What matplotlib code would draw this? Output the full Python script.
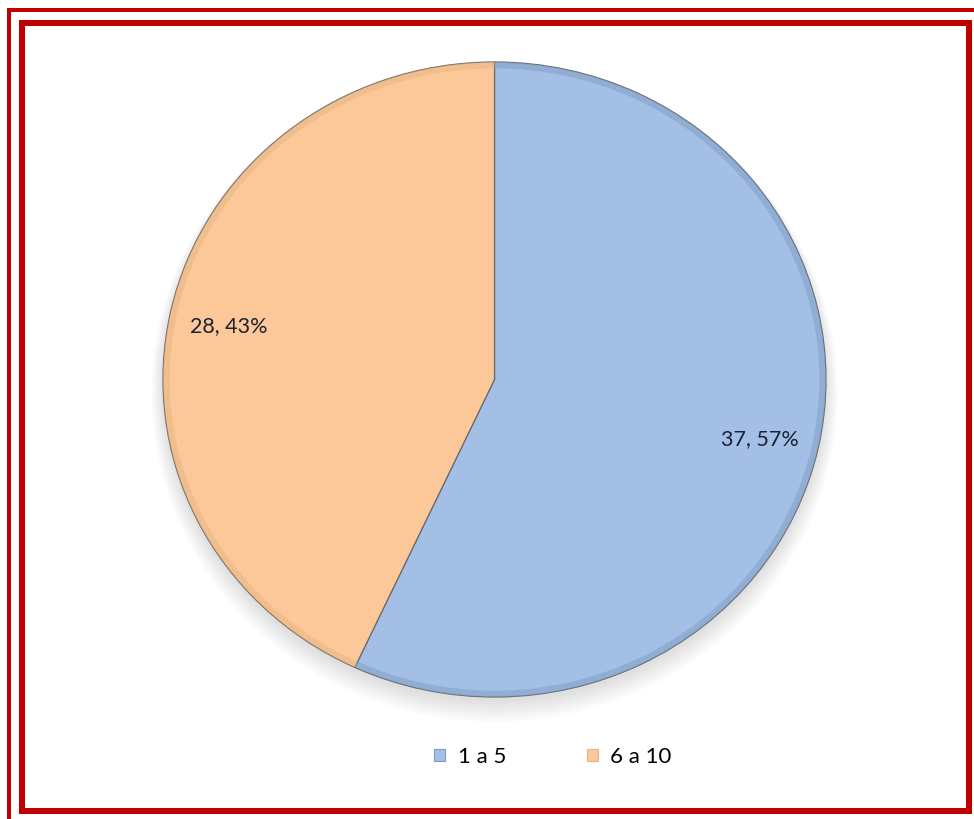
import matplotlib.pyplot as plt
import numpy as np
from matplotlib.patches import Rectangle, Ellipse, Wedge, Patch

# Share of each group
categories = ['1 a 5', '6 a 10']
values = [37.57, 28.43]
colors = ['#a3bfe5', '#fcc899']
edge_colors = ['#7e9cc4', '#e6b382']

W, H = 974, 819
fig = plt.figure(figsize=(W / 100, H / 100), dpi=100)
fig.patch.set_facecolor('white')


def px_rect(x0, y0, x1, y1, lw, color):
    # rectangle given in pixel coords from the top-left corner
    r = Rectangle((x0 / W, 1 - y1 / H), (x1 - x0) / W, (y1 - y0) / H,
                  transform=fig.transFigure, fill=False, edgecolor=color,
                  linewidth=lw * 0.72, joinstyle='miter')
    fig.patches.append(r)


# double red frame
px_rect(9, 10, 990, 835, 4, '#c00000')
px_rect(22, 23, 968.5, 811, 6, '#c00000')

# pie axes (slightly wider than tall)
ax = fig.add_axes([163 / W, (H - 697) / H, 663 / W, 635 / H])
ax.axis('off')

# soft shadow under the pie
for k in range(8):
    ax.add_patch(Ellipse((0, -0.015 - k * 0.004), 2 + k * 0.01, 2 + k * 0.01,
                         facecolor='#404040', alpha=0.02, edgecolor='none',
                         zorder=0, clip_on=False))

wedges, _ = ax.pie(values, colors=colors, startangle=90, counterclock=False,
                   radius=1.0, frame=False,
                   wedgeprops=dict(linewidth=0.9, edgecolor='#6a6a6a'))
for w, ec in zip(wedges, edge_colors):
    w.set_zorder(2)
    w.set_clip_on(False)
    # soft darker rim on each wedge
    rim = Wedge((0, 0), 1.0, w.theta1, w.theta2, width=0.02,
                facecolor=ec, edgecolor='none', alpha=0.5, zorder=3, clip_on=False)
    ax.add_patch(rim)
ax.set_aspect('auto')
ax.set_xlim(-1, 1)
ax.set_ylim(-1, 1)

# value labels inside each wedge
for w, v in zip(wedges, values):
    mid = np.deg2rad((w.theta1 + w.theta2) / 2)
    txt = f'{v:.2f}'.replace('.', ', ') + '%'
    ax.text(0.82 * np.cos(mid), 0.82 * np.sin(mid) - 0.01, txt, ha='center', va='center',
            fontsize=15.5, family='Lato', color='#1a2133', zorder=5)

handles = [Patch(facecolor=c, edgecolor=e, linewidth=0.8) for c, e in zip(colors, edge_colors)]
fig.legend(handles, categories, loc='center', bbox_to_anchor=(553 / W, 1 - 757 / H),
           ncol=2, frameon=False, handlelength=0.5, handleheight=0.5,
           handletextpad=0.55, columnspacing=3.65,
           prop=dict(family='Lato', size=16))

fig.savefig('out.png', dpi=100)
